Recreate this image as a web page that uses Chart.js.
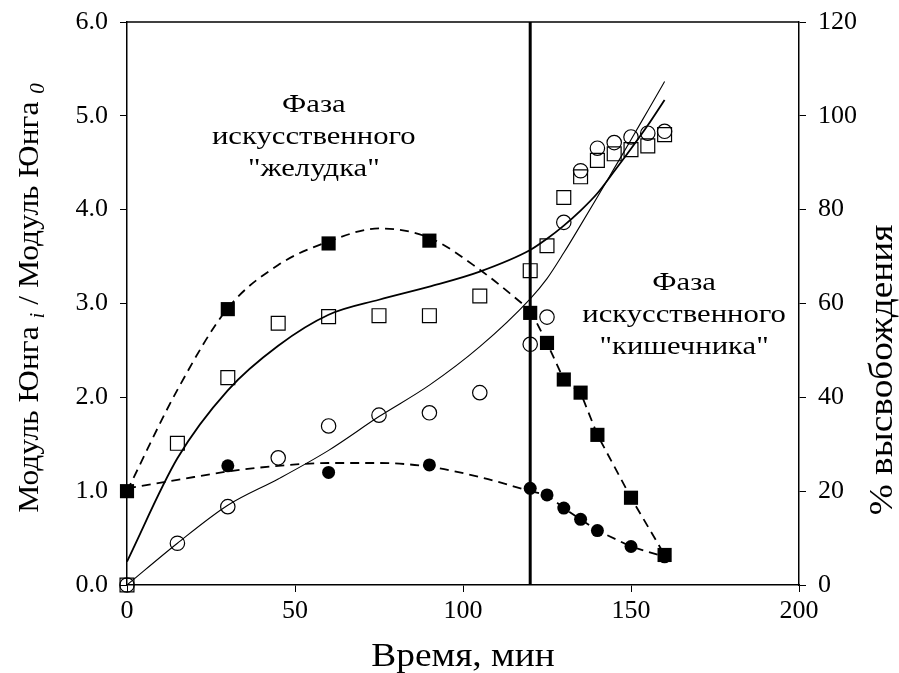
<!DOCTYPE html>
<html>
<head>
<meta charset="utf-8">
<title>Модуль Юнга и высвобождение</title>
<script src="https://cdn.jsdelivr.net/npm/chart.js@4.4.1/dist/chart.umd.min.js"></script>
<style>
    html, body { margin: 0; padding: 0; background: #fff; }
    #wrap { width: 899px; height: 673px; }
</style>
</head>
<body>
<div id="wrap"><canvas id="chart"></canvas></div>
<script>
// Sampling times, min
const timeRelease = [0, 15, 30, 45, 60, 75, 90, 105, 120, 125, 130, 135, 140, 145, 150, 155, 160];
const timeModulus = [0, 30, 60, 90, 120, 125, 130, 135, 140, 150, 160];

// Young's modulus ratio E_i / E_0 (left axis)
const modulusSquares = [1.00, 2.94, 3.64, 3.67, 2.90, 2.58, 2.19, 2.05, 1.60, 0.93, 0.32];
const modulusCircles = [1.00, 1.27, 1.20, 1.28, 1.03, 0.96, 0.82, 0.70, 0.58, 0.41, 0.30];

// Release, % (right axis)
const releaseSquares = [0, 30.2, 44.2, 55.8, 57.2, 57.4, 57.4, 61.6, 67.0, 72.3, 82.6, 87.0, 90.5, 91.9, 92.8, 93.6, 96.0];
const releaseCircles = [0, 8.9, 16.7, 27.1, 33.9, 36.2, 36.7, 41.0, 51.3, 57.1, 77.3, 88.3, 93.1, 94.3, 95.5, 96.3, 96.7];

// Fitted curves, sampled along their path
const fitTimeStomach = [0, 15, 30, 45, 60, 75, 90, 105, 120];
const fitModulusSquares = [1.00, 2.08, 2.95, 3.41, 3.66, 3.80, 3.70, 3.36, 2.93];
const fitModulusCircles = [1.03, 1.12, 1.21, 1.27, 1.30, 1.30, 1.26, 1.15, 1.00];
const fitReleaseSquares = [5.0, 27.0, 41.5, 51.0, 57.6, 60.8, 63.6, 66.8, 71.4, 73.8, 76.6, 79.8, 83.5, 88.2, 93.0, 98.0, 103.4];
const fitReleaseCircles = [0, 8.9, 17.0, 22.6, 28.7, 35.9, 42.6, 50.8, 61.0, 65.3, 70.8, 76.7, 82.7, 88.8, 94.9, 101.1, 107.3];

// Boundary between the two phases, min
const phaseBoundary = 120;

// Axis ticks
const xTicks = [0, 50, 100, 150, 200];
const yTicks = [0, 1, 2, 3, 4, 5, 6];
const y2Ticks = [0, 20, 40, 60, 80, 100, 120];

const SERIF = "'Liberation Serif', 'Times New Roman', serif";

function pts(xs, ys) {
    return xs.map((x, i) => ({ x: x, y: ys[i] }));
}

// tails of the dashed curves join the fit end to the measured points after 120 min
function tail(fitXs, fitYs, xs, ys) {
    const out = [{ x: fitXs[fitXs.length - 1], y: fitYs[fitYs.length - 1] }];
    xs.forEach((x, i) => { if (x > phaseBoundary) out.push({ x: x, y: ys[i] }); });
    return out;
}

// text widened along its direction (the figure uses a broad serif face)
function wideText(ctx, s, x, y, sx) {
    ctx.save();
    ctx.translate(x, y);
    ctx.scale(sx, 1);
    ctx.fillText(s, 0, 0);
    ctx.restore();
}

// fixed scale box sizes, without the extra room Chart.js keeps for edge labels
function fixBox(w, h) {
    return s => {
        if (w) s.width = w;
        if (h) s.height = h;
        s.paddingTop = 0; s.paddingBottom = 0; s.paddingLeft = 0; s.paddingRight = 0;
    };
}

const dashed = {
    type: 'line', showLine: true, pointRadius: 0, borderColor: '#000',
    borderWidth: 1.8, borderDash: [9, 6], fill: false, yAxisID: 'y'
};

// Frame top, axis titles and phase captions
const textPlugin = {
    id: 'chartText',
    afterDraw(chart) {
        const ctx = chart.ctx;
        const area = chart.chartArea;
        const xs = chart.scales.x;
        const ys = chart.scales.y;
        ctx.save();
        ctx.fillStyle = '#000';

        ctx.strokeStyle = '#000';
        ctx.lineWidth = 1.5;
        ctx.beginPath();
        ctx.moveTo(area.left, area.top);
        ctx.lineTo(area.right, area.top);
        ctx.stroke();

        ctx.textAlign = 'center';
        ctx.textBaseline = 'middle';
        ctx.font = '26px ' + SERIF;
        const gastric = ['Фаза', 'искусственного', '"желудка"'];
        const intestinal = ['Фаза', 'искусственного', '"кишечника"'];
        let cx = xs.getPixelForValue(55.6), cy = ys.getPixelForValue(4.77);
        gastric.forEach((s, i) => wideText(ctx, s, cx, cy + (i - 1) * 32, 1.18));
        cx = xs.getPixelForValue(165.8); cy = ys.getPixelForValue(2.88);
        intestinal.forEach((s, i) => wideText(ctx, s, cx, cy + (i - 1) * 32, 1.18));

        // x title
        ctx.font = '34px ' + SERIF;
        wideText(ctx, 'Время, мин', (area.left + area.right) / 2, 657, 1.1);

        // left title with italic subscripts
        const sx = 1.05;
        const parts = [
            { t: 'Модуль Юнга ', f: '30px ' + SERIF, dy: 0 },
            { t: 'i', f: 'italic 20px ' + SERIF, dy: 6 },
            { t: ' / Модуль Юнга ', f: '30px ' + SERIF, dy: 0 },
            { t: '0', f: 'italic 20px ' + SERIF, dy: 6 }
        ];
        let total = 0;
        parts.forEach(p => { ctx.font = p.f; p.w = ctx.measureText(p.t).width; total += p.w; });
        ctx.save();
        ctx.translate(30, 298);
        ctx.rotate(-Math.PI / 2);
        ctx.scale(sx, 1);
        ctx.textAlign = 'left';
        ctx.textBaseline = 'alphabetic';
        let px = -total / 2;
        parts.forEach(p => { ctx.font = p.f; ctx.fillText(p.t, px, 8 + p.dy); px += p.w; });
        ctx.restore();

        // right title
        ctx.save();
        ctx.translate(884, 370);
        ctx.rotate(-Math.PI / 2);
        ctx.scale(1.13, 1);
        ctx.font = '33px ' + SERIF;
        ctx.textBaseline = 'alphabetic';
        ctx.fillText('% высвобождения', 0, 8);
        ctx.restore();

        ctx.restore();
    }
};

const tickFont = { family: SERIF, size: 26 };
const axisGrid = { drawOnChartArea: false, drawTicks: true, tickLength: 7, color: '#000', lineWidth: 1 };
const axisBorder = { display: true, color: '#000', width: 1.5 };

new Chart(document.getElementById('chart'), {
    type: 'scatter',
    data: {
        datasets: [
            {
                // phase boundary
                type: 'line', data: [{ x: phaseBoundary, y: 0 }, { x: phaseBoundary, y: 6 }],
                borderColor: '#000', borderWidth: 3, pointRadius: 0, showLine: true, yAxisID: 'y'
            },
            {
                data: pts(timeModulus, modulusSquares), yAxisID: 'y',
                pointStyle: 'rect', pointRadius: 10, backgroundColor: '#000', borderColor: '#000', borderWidth: 0
            },
            {
                data: pts(timeModulus, modulusCircles), yAxisID: 'y',
                pointStyle: 'circle', pointRadius: 6.5, backgroundColor: '#000', borderColor: '#000', borderWidth: 0
            },
            {
                data: pts(timeRelease, releaseSquares), yAxisID: 'y2',
                pointStyle: 'rect', pointRadius: 9.8, backgroundColor: 'rgba(0,0,0,0)', borderColor: '#000', borderWidth: 1.2
            },
            {
                data: pts(timeRelease, releaseCircles), yAxisID: 'y2',
                pointStyle: 'circle', pointRadius: 7.2, backgroundColor: 'rgba(0,0,0,0)', borderColor: '#000', borderWidth: 1.2
            },
            Object.assign({}, dashed, { data: pts(fitTimeStomach, fitModulusSquares), cubicInterpolationMode: 'monotone' }),
            Object.assign({}, dashed, { data: tail(fitTimeStomach, fitModulusSquares, timeModulus, modulusSquares), tension: 0 }),
            Object.assign({}, dashed, { data: pts(fitTimeStomach, fitModulusCircles), cubicInterpolationMode: 'monotone' }),
            Object.assign({}, dashed, { data: tail(fitTimeStomach, fitModulusCircles, timeModulus, modulusCircles), tension: 0 }),
            {
                type: 'line', data: pts(timeRelease, fitReleaseSquares), yAxisID: 'y2',
                borderColor: '#000', borderWidth: 1.8, pointRadius: 0, showLine: true, cubicInterpolationMode: 'monotone'
            },
            {
                type: 'line', data: pts(timeRelease, fitReleaseCircles), yAxisID: 'y2',
                borderColor: '#000', borderWidth: 1.1, pointRadius: 0, showLine: true, cubicInterpolationMode: 'monotone'
            }
        ]
    },
    options: {
        responsive: true,
        maintainAspectRatio: false,
        animation: false,
        clip: false,
        layout: { padding: { top: 22, left: 0, right: 0, bottom: 0 } },
        plugins: {
            legend: { display: false },
            tooltip: { enabled: false }
        },
        scales: {
            x: {
                type: 'linear', min: 0, max: 200,
                afterBuildTicks: s => { s.ticks = xTicks.map(v => ({ value: v })); },
                afterFit: fixBox(0, 88),
                ticks: { font: tickFont, color: '#000', padding: 4 },
                grid: axisGrid, border: axisBorder
            },
            y: {
                position: 'left', min: 0, max: 6,
                afterBuildTicks: s => { s.ticks = yTicks.map(v => ({ value: v })); },
                afterFit: fixBox(127, 0),
                ticks: { font: tickFont, color: '#000', padding: 12, callback: v => v.toFixed(1) },
                grid: axisGrid, border: axisBorder
            },
            y2: {
                position: 'right', min: 0, max: 120,
                afterBuildTicks: s => { s.ticks = y2Ticks.map(v => ({ value: v })); },
                afterFit: fixBox(100, 0),
                ticks: { font: tickFont, color: '#000', padding: 12 },
                grid: axisGrid, border: axisBorder
            }
        }
    },
    plugins: [textPlugin]
});
</script>
</body>
</html>
